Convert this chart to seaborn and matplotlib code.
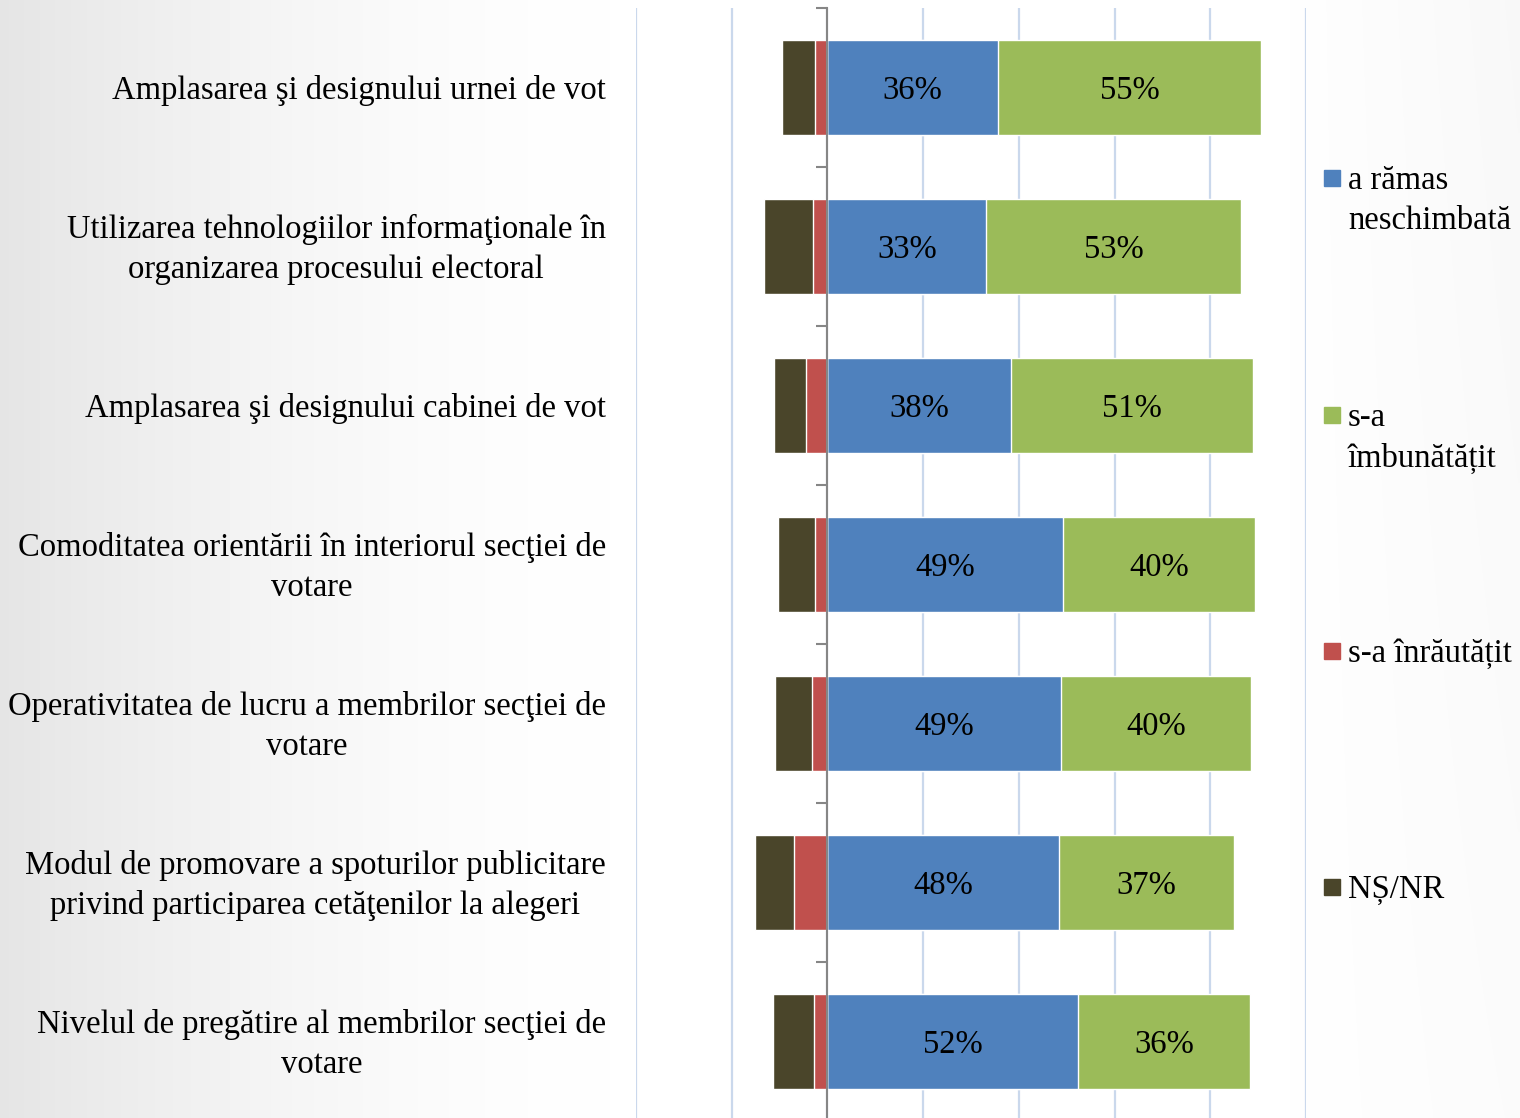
import numpy as np
import pandas as pd
import matplotlib.pyplot as plt
from matplotlib.patches import Rectangle
import seaborn as sns

# Chart data
categories = [
    "Amplasarea şi designului urnei de vot",
    "Utilizarea tehnologiilor informaţionale în\norganizarea procesului electoral",
    "Amplasarea şi designului cabinei de vot",
    "Comoditatea orientării în interiorul secţiei de\nvotare",
    "Operativitatea de lucru a membrilor secţiei de\nvotare",
    "Modul de promovare a spoturilor publicitare\nprivind participarea cetăţenilor la alegeri",
    "Nivelul de pregătire al membrilor secţiei de\nvotare",
]
unchanged = [35.6, 33.2, 38.4, 49.3, 48.9, 48.3, 52.4]
improved = [55.0, 53.3, 50.6, 40.1, 39.7, 36.6, 35.9]
worse = [2.5, 3.1, 4.4, 2.5, 3.3, 6.9, 2.9]
dont_know = [6.9, 10.2, 6.7, 7.9, 7.7, 8.2, 8.4]

legend_labels = ["a rămas\nneschimbată", "s-a\nîmbunătățit", "s-a înrăutățit", "NȘ/NR"]
colors = ["#4f81bd", "#9bbb59", "#c0504d", "#4a452a"]

df = pd.DataFrame({
    "cat": categories,
    "unchanged": unchanged,
    "improved": improved,
    "worse": worse,
    "dk": dont_know,
})
df["pos_total"] = df["unchanged"] + df["improved"]
df["neg_total"] = -(df["worse"] + df["dk"])
df["neg_worse"] = -df["worse"]

sns.set_style("white")
plt.rcParams["font.family"] = ["Liberation Serif", "DejaVu Serif"]
plt.rcParams["text.color"] = "black"
FS = 23.5

W, H = 1520, 1118
fig = plt.figure(figsize=(W / 100, H / 100), dpi=100)

# background gradient
bg = fig.add_axes([0, 0, 1, 1], zorder=-10)
xx, yy = np.meshgrid(np.linspace(0, 1, 400), np.linspace(0, 1, 300))
g = 1 - 0.1 * np.clip(1 - xx / 0.4, 0, 1) ** 1.6 - 0.025 * np.clip((xx - 0.85) / 0.15, 0, 1) * (1 - yy * 0.5)
bg.imshow(np.dstack([g, g, g]), aspect="auto", extent=[0, 1, 0, 1], interpolation="bilinear")
bg.axis("off")

ax = fig.add_axes([636 / W, 1 - 1121 / H, 670 / W, 1113 / H])
ax.patch.set_alpha(0)

sns.barplot(data=df, x="pos_total", y="cat", color=colors[1], width=0.6, orient="h", ax=ax, saturation=1)
sns.barplot(data=df, x="unchanged", y="cat", color=colors[0], width=0.6, orient="h", ax=ax, saturation=1)
sns.barplot(data=df, x="neg_total", y="cat", color=colors[3], width=0.6, orient="h", ax=ax, saturation=1)
sns.barplot(data=df, x="neg_worse", y="cat", color=colors[2], width=0.6, orient="h", ax=ax, saturation=1)

# value labels and category labels (nudged a few px down to match)
dy = 0.02
for i, row in df.iterrows():
    ax.text(row["unchanged"] / 2, i + dy, f"{row['unchanged']:.0f}%", ha="center", va="center", fontsize=FS)
    ax.text(row["unchanged"] + row["improved"] / 2, i + dy, f"{row['improved']:.0f}%", ha="center",
            va="center", fontsize=FS)
    ax.text(-0.045, i + dy, row["cat"], transform=ax.get_yaxis_transform(), ha="right", va="center",
            multialignment="center", fontsize=FS, linespacing=1.38)

ax.set_xlim(-40, 100)
ax.set_ylim(len(categories) - 0.5, -0.5)
ax.set_xticks(np.arange(-40, 101, 20))
ax.set_xticklabels([])
ax.set_yticks(range(len(categories)))
ax.set_yticklabels([])
ax.set_yticks([i - 0.5 for i in range(len(categories) + 1)], minor=True)
ax.tick_params(axis="y", which="major", left=False, length=0)
ax.tick_params(axis="y", which="minor", left=True, length=8, width=1.5, color="#868686", direction="out")
ax.tick_params(axis="x", length=0)
ax.set_xlabel("")
ax.set_ylabel("")
ax.grid(axis="x", color="#cad8ec", linewidth=1.6)
ax.set_axisbelow(True)
for s in ["top", "right", "bottom"]:
    ax.spines[s].set_visible(False)
ax.spines["left"].set_position(("data", 0))
ax.spines["left"].set_color("#868686")
ax.spines["left"].set_linewidth(1.5)
ax.spines["left"].set_zorder(5)

# legend
leg_y = [178, 415, 651, 887]
for lab, col, y in zip(legend_labels, colors, leg_y):
    fig.patches.append(Rectangle((1324 / W, 1 - (y + 8) / H), 16 / W, 16 / H,
                                 transform=fig.transFigure, color=col))
    for k, line in enumerate(lab.split("\n")):
        fig.text(1348 / W, 1 - (y + 3 + 40 * k) / H, line, ha="left", va="center", fontsize=FS)

fig.savefig("out.png", dpi=100)
